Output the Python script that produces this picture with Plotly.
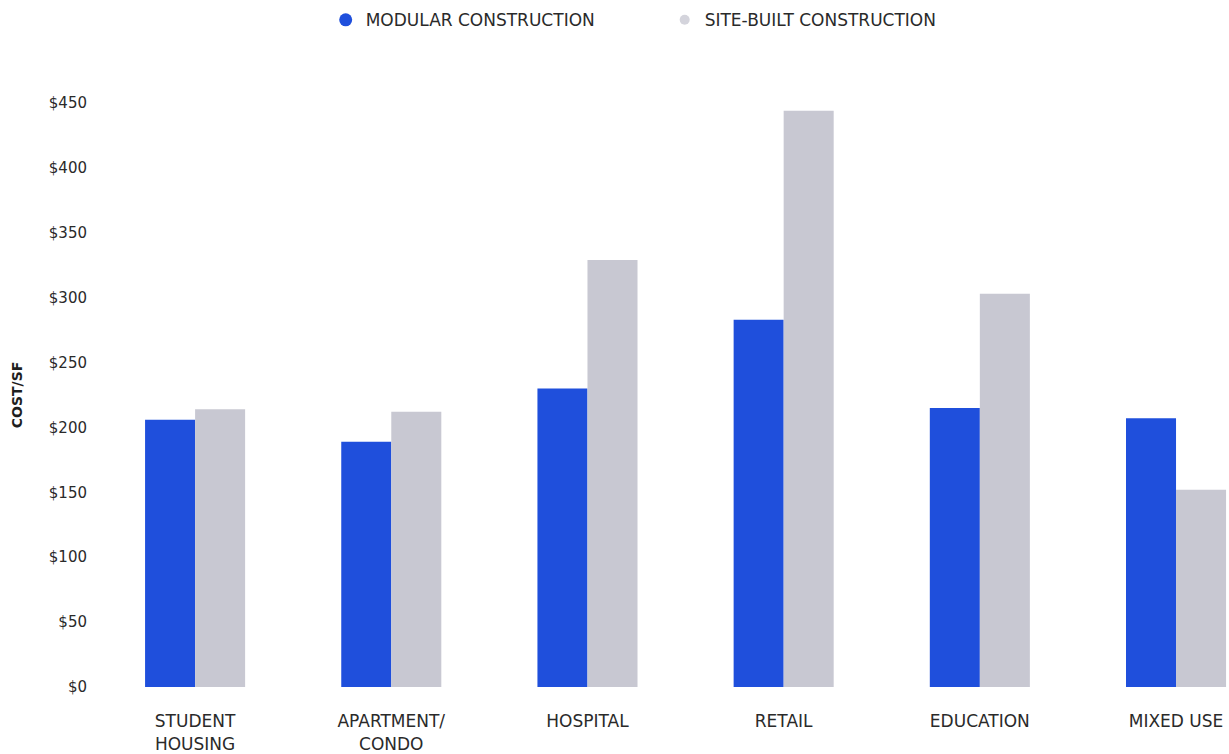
import plotly.graph_objects as go

categories = ["STUDENT<br>HOUSING", "APARTMENT/<br>CONDO", "HOSPITAL", "RETAIL", "EDUCATION", "MIXED USE"]
modular = [206, 189, 230, 283, 215, 207]
site_built = [214, 212, 329, 444, 303, 152]
y_ticks = [0, 50, 100, 150, 200, 250, 300, 350, 400, 450]
y_tick_labels = ["$0", "$50", "$100", "$150", "$200", "$250", "$300", "$350", "$400", "$450"]

BLUE = "#1f4fdc"
GRAY = "#c8c8d2"
FONT = "DejaVu Sans, sans-serif"

fig = go.Figure()
fig.add_trace(go.Bar(x=categories, y=modular, name="MODULAR CONSTRUCTION",
                     marker=dict(color=BLUE, line=dict(width=0)), showlegend=False))
fig.add_trace(go.Bar(x=categories, y=site_built, name="SITE-BUILT CONSTRUCTION",
                     marker=dict(color=GRAY, line=dict(width=0)), showlegend=False))
# legend entries with round markers
fig.add_trace(go.Scatter(x=[None], y=[None], mode="markers", name="MODULAR CONSTRUCTION",
                         marker=dict(color=BLUE, size=13, symbol="circle")))
fig.add_trace(go.Scatter(x=[None], y=[None], mode="markers", name="SITE-BUILT CONSTRUCTION",
                         marker=dict(color="#d4d4dc", size=10, symbol="circle")))

fig.update_layout(
    width=1229, height=754,
    margin=dict(l=97, r=0, t=103, b=67),
    paper_bgcolor="white", plot_bgcolor="white",
    barmode="group", bargap=0.49, bargroupgap=0,
    font=dict(family=FONT, size=15, color="#2a2a2a"),
    legend=dict(orientation="h", xref="container", yref="container",
                x=0.265, y=0.997, xanchor="left", yanchor="top",
                entrywidth=294, entrywidthmode="pixels",
                font=dict(size=17, color="#2a2a2a", family=FONT),
                itemsizing="trace"),
    xaxis=dict(showgrid=False, zeroline=False, showline=False, ticks="outside",
               ticklen=19, tickcolor="rgba(0,0,0,0)", range=[-0.5, 5.27],
               tickfont=dict(size=17, color="#2a2a2a", family=FONT)),
    yaxis=dict(range=[0, 450], tickvals=y_ticks, ticktext=y_tick_labels,
               showgrid=False, zeroline=False, showline=False, ticks="outside",
               ticklen=6, tickcolor="rgba(0,0,0,0)",
               tickfont=dict(size=15, color="#2a2a2a", family=FONT),
               title=dict(text="<b>COST/SF</b>", font=dict(size=14, color="#1e1e1e", family=FONT), standoff=22)),
)

fig.write_html("out.html")
